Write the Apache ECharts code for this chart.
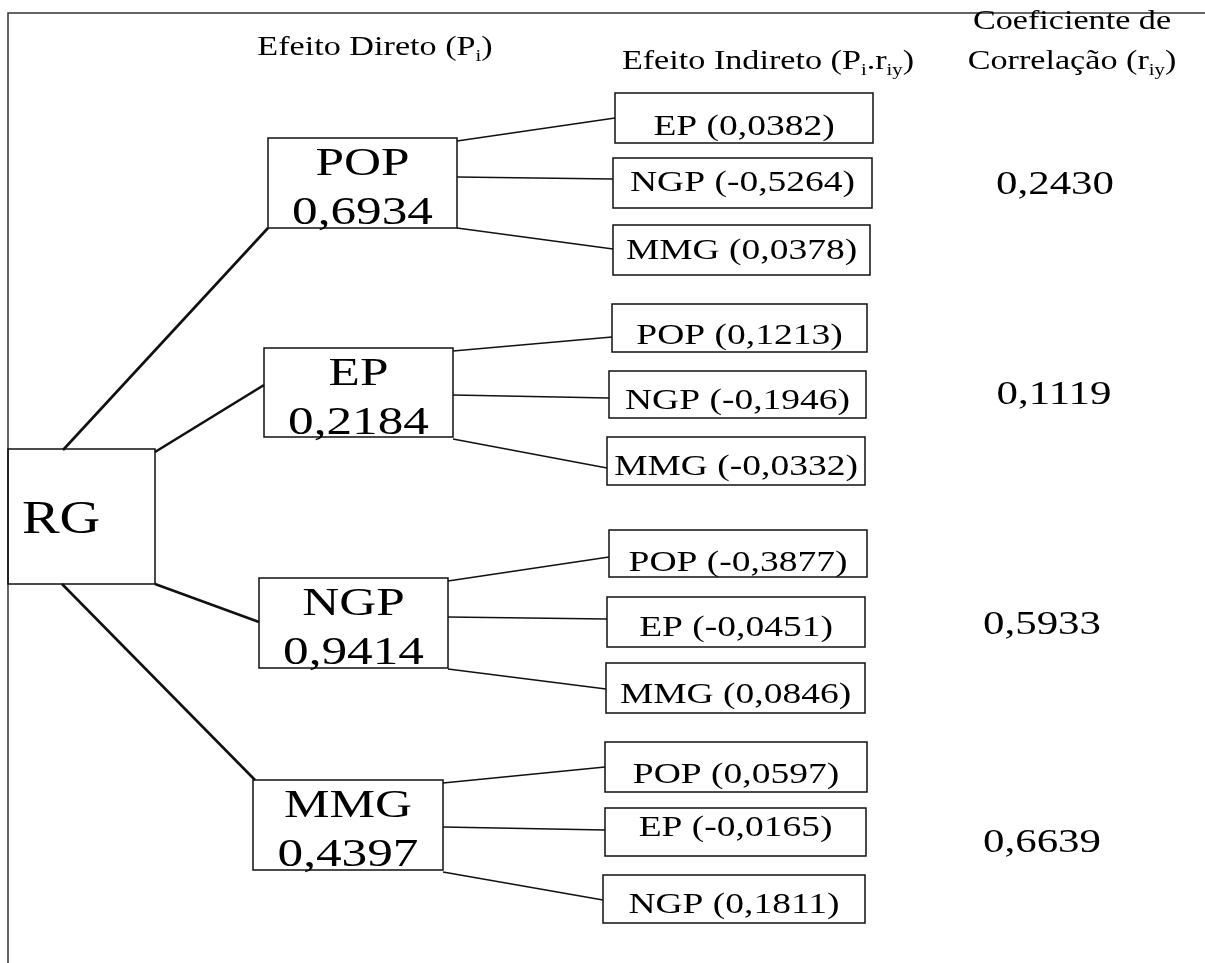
<!DOCTYPE html>
<html><head><meta charset="utf-8">
<script src="https://cdn.jsdelivr.net/npm/echarts@6/dist/echarts.min.js"></script>
<style>html,body{margin:0;padding:0;background:#fff}#c{width:1205px;height:963px}</style>
</head><body><div id="c"></div>
<script>
// ---------------- data ----------------
const rootVar = 'RG';
const directVars = ['POP', 'EP', 'NGP', 'MMG'];
const directEffects = [0.6934, 0.2184, 0.9414, 0.4397];
const indirectVars = [
  ['EP', 'NGP', 'MMG'],
  ['POP', 'NGP', 'MMG'],
  ['POP', 'EP', 'MMG'],
  ['POP', 'EP', 'NGP']
];
const indirectEffects = [
  [0.0382, -0.5264, 0.0378],
  [0.1213, -0.1946, -0.0332],
  [-0.3877, -0.0451, 0.0846],
  [0.0597, -0.0165, 0.1811]
];
const correlations = [0.2430, 0.1119, 0.5933, 0.6639];
const headerTexts = [
  'Efeito Direto (P{s|i})',
  'Efeito Indireto (P{s|i}.r{s|iy})',
  'Coeficiente de',
  'Correlação (r{s|iy})'
];

// ---------------- layout (pixels) ----------------
const L = {
  frame: [[1205, 13], [8, 13], [8, 963]],
  root: [8, 449, 155, 584],
  rootText: [22, 521],
  rootLinks: [[[63, 450], [268, 228]], [[155, 452], [264, 385]], [[155, 584], [259, 622]], [[62, 584], [255, 780]]],
  direct: [[268, 138, 457, 228], [264, 348, 453, 437], [259, 578, 448, 668], [253, 780, 443, 870]],
  directNameDy: 26, directValueDy: 75,
  indirect: [
    [[615, 93, 873, 143], [613, 158, 872, 208], [613, 225, 870, 275]],
    [[612, 304, 867, 352], [609, 371, 866, 418], [607, 437, 865, 485]],
    [[609, 530, 867, 577], [607, 597, 865, 647], [606, 663, 865, 713]],
    [[605, 742, 867, 792], [605, 808, 866, 856], [603, 875, 865, 923]]
  ],
  indirectDy: [[9, 0, 1], [8, 7, 6], [10, 6, 7], [8, -4, 6]],
  linkFromY: [[141, 177, 228], [351, 395, 439], [581, 617, 669], [783, 827, 872]],
  linkToY: [[118, 179, 249], [337, 398, 468], [557, 619, 689], [767, 830, 900]],
  corr: [[1055, 185], [1054, 395], [1042, 625], [1042, 843]],
  headers: [[375, 48], [768, 62], [1072, 22], [1072, 62]]
};

const FONT = '"Liberation Serif", "Times New Roman", serif';
const INK = '#111';
const SX = 1.25;
const fmt = v => (v < 0 ? '-' : '') + Math.abs(v).toFixed(4).replace('.', ',');

const chart = echarts.init(document.getElementById('c'), null, { renderer: 'canvas' });

function rectEl(api, b, lw) {
  const p0 = api.coord([b[0], b[1]]), p1 = api.coord([b[2], b[3]]);
  return { type: 'rect', shape: { x: p0[0], y: p0[1], width: p1[0] - p0[0], height: p1[1] - p0[1] },
    style: { fill: 'transparent', stroke: INK, lineWidth: lw } };
}
function lineEl(api, a, b, lw) {
  const p0 = api.coord(a), p1 = api.coord(b);
  return { type: 'line', shape: { x1: p0[0], y1: p0[1], x2: p1[0], y2: p1[1] }, style: { stroke: INK, lineWidth: lw } };
}
function textEl(api, pt, str, size, sx, align, rich) {
  const p = api.coord(pt);
  const style = { text: str, fontSize: size, fontFamily: FONT, fill: '#000', align: align || 'center', verticalAlign: 'middle' };
  if (rich) { style.rich = rich; style.lineHeight = size + 6; }
  return { type: 'text', x: p[0], y: p[1], scaleX: sx, style: style };
}

const idx = n => Array.from({ length: n }, (_, i) => [i, 0]);

const series = [
  { // frame
    type: 'custom', data: [[0, 0]], silent: true,
    renderItem: (params, api) => {
      const pts = L.frame.map(p => api.coord(p));
      return { type: 'polyline', shape: { points: pts }, style: { stroke: '#333', lineWidth: 1.5, fill: null } };
    }
  },
  { // root box
    type: 'custom', data: [[0, 0]], silent: true,
    renderItem: (params, api) => ({ type: 'group', children: [
      rectEl(api, L.root, 1.5),
      textEl(api, L.rootText, rootVar, 47, 1.2, 'left')
    ] })
  },
  { // root -> direct links
    type: 'custom', data: idx(directVars.length), silent: true,
    renderItem: (params, api) => lineEl(api, L.rootLinks[params.dataIndex][0], L.rootLinks[params.dataIndex][1], 2.6)
  },
  { // direct boxes
    type: 'custom', data: idx(directVars.length), silent: true,
    renderItem: (params, api) => {
      const i = params.dataIndex, b = L.direct[i], cx = (b[0] + b[2]) / 2;
      return { type: 'group', children: [
        rectEl(api, b, 1.5),
        textEl(api, [cx, b[1] + L.directNameDy], directVars[i], 41, SX),
        textEl(api, [cx, b[1] + L.directValueDy], fmt(directEffects[i]), 41, SX)
      ] };
    }
  },
  { // direct -> indirect links + indirect boxes
    type: 'custom', data: idx(12), silent: true,
    renderItem: (params, api) => {
      const g = Math.floor(params.dataIndex / 3), k = params.dataIndex % 3;
      const d = L.direct[g], b = L.indirect[g][k];
      const cx = (b[0] + b[2]) / 2, cy = (b[1] + b[3]) / 2 + L.indirectDy[g][k];
      return { type: 'group', children: [
        lineEl(api, [d[2], L.linkFromY[g][k]], [b[0], L.linkToY[g][k]], 1.5),
        rectEl(api, b, 1.5),
        textEl(api, [cx, cy], indirectVars[g][k] + ' (' + fmt(indirectEffects[g][k]) + ')', 30, SX)
      ] };
    }
  },
  { // correlations
    type: 'custom', data: idx(correlations.length), silent: true,
    renderItem: (params, api) => textEl(api, L.corr[params.dataIndex], fmt(correlations[params.dataIndex]), 33, 1.3)
  },
  { // headers
    type: 'custom', data: idx(headerTexts.length), silent: true,
    renderItem: (params, api) => textEl(api, L.headers[params.dataIndex], headerTexts[params.dataIndex], 28, 1.22, 'center',
      { s: { fontSize: 17, fontFamily: FONT, fill: '#000', verticalAlign: 'bottom', lineHeight: 22 } })
  }
];

chart.setOption({
  animation: false,
  backgroundColor: '#fff',
  grid: { left: 0, right: 0, top: 0, bottom: 0 },
  xAxis: { type: 'value', min: 0, max: 1205, show: false },
  yAxis: { type: 'value', min: 0, max: 963, inverse: true, show: false },
  series: series
});
</script></body></html>
